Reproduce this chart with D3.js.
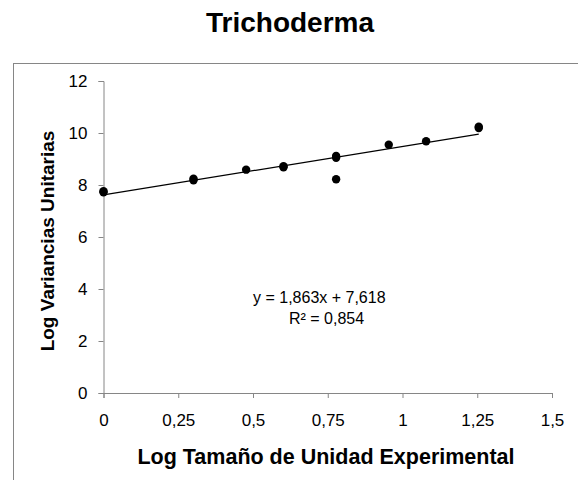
<!DOCTYPE html>
<html>
<head>
<meta charset="utf-8">
<script src="https://cdn.jsdelivr.net/npm/d3@7"></script>
<style>
  body { margin: 0; background: #fff; }
  text { font-family: "Liberation Sans", Arial, sans-serif; fill: #000; }
</style>
</head>
<body>
<svg id="chart" width="578" height="480"></svg>
<script>
// log plot size vs log unit variance
const logSize = [0, 0, 0.301, 0.301, 0.477, 0.602, 0.602, 0.778, 0.778, 0.778, 0.954, 1.079, 1.255, 1.255];
const logVar = [7.72, 7.76, 8.18, 8.24, 8.59, 8.68, 8.72, 9.05, 9.12, 8.22, 9.55, 9.68, 10.19, 10.24];
const slope = 1.863;
const intercept = 7.618;
const xTicks = [0, 0.25, 0.5, 0.75, 1, 1.25, 1.5];
const yTicks = [0, 2, 4, 6, 8, 10, 12];
const eqLines = ['y = 1,863x + 7,618', 'R² = 0,854'];

const margin = { top: 81, left: 103.5, right: 26, bottom: 87 };
const svg = d3.select('#chart');
const width = 578 - margin.left - margin.right;
const height = 480 - margin.top - margin.bottom;

// outer frame (cut off on the right and bottom)
svg.append('rect')
  .attr('x', 13.5).attr('y', 63.5)
  .attr('width', 600).attr('height', 500)
  .attr('fill', 'none').attr('stroke', '#868686');

svg.append('text')
  .attr('x', 290).attr('y', 31.5)
  .attr('text-anchor', 'middle')
  .style('font-size', '28px').style('font-weight', 'bold')
  .text('Trichoderma');

const x = d3.scaleLinear().domain([0, 1.5]).range([0, 448.5]);
const y = d3.scaleLinear().domain([0, 12]).range([312, 0]);

const g = svg.append('g').attr('transform', `translate(${margin.left},${margin.top})`);

const fmt = d => String(d).replace('.', ',');

const xAxis = g.append('g')
  .attr('transform', `translate(0,${y(0)})`)
  .call(d3.axisBottom(x).tickValues(xTicks).tickSize(5).tickPadding(16).tickFormat(fmt));
const yAxis = g.append('g')
  .call(d3.axisLeft(y).tickValues(yTicks).tickSize(5).tickPadding(11).tickFormat(fmt));

[xAxis, yAxis].forEach(a => {
  a.select('.domain').attr('stroke', '#868686');
  a.selectAll('.tick line').attr('stroke', '#868686');
  a.selectAll('.tick text')
    .style('font-family', '"Liberation Sans", Arial, sans-serif')
    .style('font-size', '17px').attr('fill', '#000');
});

// trendline
g.append('line')
  .attr('x1', x(0)).attr('y1', y(intercept))
  .attr('x2', x(d3.max(logSize))).attr('y2', y(intercept + slope * d3.max(logSize)))
  .attr('stroke', '#000').attr('stroke-width', 1.2);

g.selectAll('.dot')
  .data(logSize)
  .enter().append('circle')
  .attr('class', 'dot')
  .attr('cx', d => x(d))
  .attr('cy', (d, i) => y(logVar[i]))
  .attr('r', 4.2)
  .attr('fill', '#000');

svg.selectAll('.eq')
  .data(eqLines)
  .enter().append('text')
  .attr('class', 'eq')
  .attr('x', (d, i) => i === 0 ? 253 : 289)
  .attr('y', (d, i) => 303 + i * 20.5)
  .style('font-size', '16px')
  .text(d => d);

svg.append('text')
  .attr('x', 326).attr('y', 463.5)
  .attr('text-anchor', 'middle')
  .style('font-size', '21.5px').style('font-weight', 'bold')
  .text('Log Tamaño de Unidad Experimental');

svg.append('text')
  .attr('transform', `translate(54,241) rotate(-90)`)
  .attr('text-anchor', 'middle')
  .style('font-size', '19px').style('font-weight', 'bold')
  .text('Log Variancias Unitarias');
</script>
</body>
</html>
